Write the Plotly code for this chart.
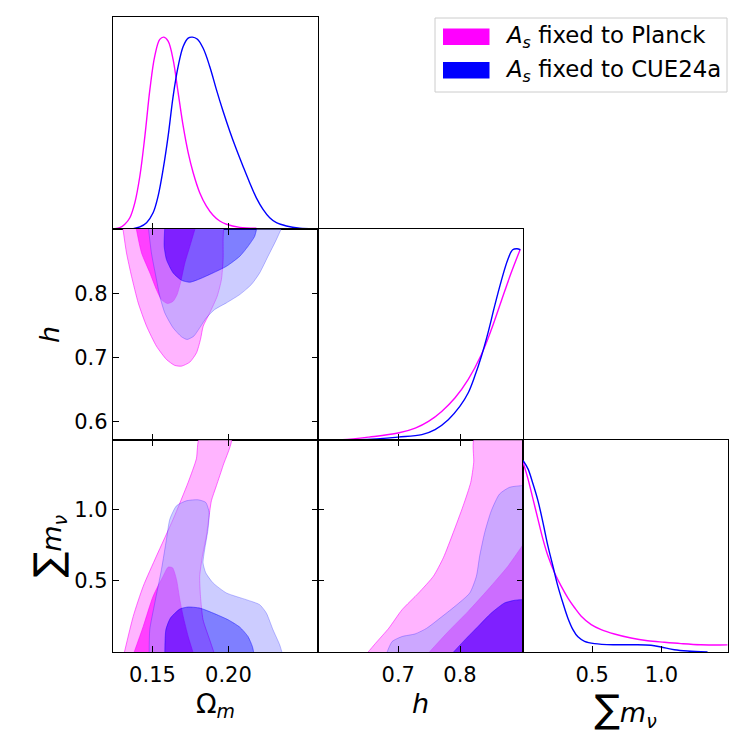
import plotly.graph_objects as go
from plotly.subplots import make_subplots

# ---------------- data ----------------
# 1D marginals (peak normalised to 1)
om_planck_x = [0.1252, 0.1285, 0.1318, 0.1351, 0.1384, 0.1417, 0.1450, 0.1483, 0.1515, 0.1548, 0.1575,
               0.1603, 0.1636, 0.1669, 0.1702, 0.1735, 0.1768, 0.1811, 0.1855, 0.1899, 0.1943, 0.1987,
               0.2075, 0.2184]
om_planck_p = [0.0, 0.005, 0.023, 0.057, 0.136, 0.275, 0.483, 0.727, 0.901, 0.988, 1.0,
               0.979, 0.883, 0.710, 0.536, 0.397, 0.292, 0.188, 0.118, 0.070, 0.040, 0.023,
               0.007, 0.002]
om_cue_x = [0.1373, 0.1417, 0.1461, 0.1504, 0.1537, 0.1570, 0.1603, 0.1636, 0.1669, 0.1702, 0.1735,
            0.1763, 0.1794, 0.1833, 0.1877, 0.1921, 0.1965, 0.2009, 0.2053, 0.2096, 0.2140, 0.2184,
            0.2228, 0.2272, 0.2316, 0.2382, 0.2470, 0.2557]
om_cue_p = [0.0, 0.009, 0.031, 0.083, 0.170, 0.309, 0.483, 0.691, 0.847, 0.951, 0.995,
            1.0, 0.990, 0.943, 0.847, 0.726, 0.613, 0.509, 0.413, 0.326, 0.240, 0.161,
            0.101, 0.057, 0.031, 0.014, 0.003, 0.0]

h_planck_x = [0.5697, 0.6098, 0.6526, 0.6997, 0.7275, 0.7489, 0.7703, 0.7917, 0.8131, 0.8345,
              0.8506, 0.8666, 0.8827, 0.8976]
h_planck_p = [0.0, 0.003, 0.017, 0.038, 0.064, 0.099, 0.151, 0.221, 0.317, 0.447,
              0.577, 0.725, 0.873, 0.998]
h_cue_x = [0.5697, 0.6366, 0.6997, 0.7382, 0.7596, 0.7810, 0.7997, 0.8131, 0.8238, 0.8345,
           0.8452, 0.8559, 0.8666, 0.8773, 0.8853, 0.8923, 0.8976]
h_cue_p = [0.0, 0.003, 0.017, 0.030, 0.056, 0.108, 0.177, 0.247, 0.334, 0.438,
           0.560, 0.699, 0.830, 0.943, 0.995, 1.0, 0.995]

mnu_planck_x = [0.0, 0.036, 0.072, 0.108, 0.144, 0.180, 0.228, 0.276, 0.324, 0.373, 0.421,
                0.493, 0.565, 0.661, 0.781, 0.901, 1.021, 1.142, 1.286, 1.478]
mnu_planck_p = [0.991, 0.904, 0.799, 0.694, 0.589, 0.502, 0.414, 0.344, 0.283, 0.231, 0.187,
                0.143, 0.117, 0.094, 0.073, 0.059, 0.051, 0.044, 0.038, 0.037]
mnu_cue_x = [0.0, 0.036, 0.072, 0.108, 0.144, 0.180, 0.216, 0.252, 0.288, 0.324, 0.361,
             0.397, 0.445, 0.517, 0.661, 0.805, 0.925, 0.998, 1.094, 1.190, 1.334]
mnu_cue_p = [1.0, 0.956, 0.878, 0.790, 0.677, 0.554, 0.449, 0.344, 0.257, 0.178, 0.117,
             0.079, 0.056, 0.044, 0.038, 0.038, 0.035, 0.026, 0.012, 0.005, 0.0]

# 2D contours (68% / 95%), Omega_m vs h
omh_planck95_x = [0.1303, 0.1329, 0.1362, 0.1406, 0.1461, 0.1526, 0.1592, 0.1647, 0.1691, 0.1746,
                  0.1790, 0.1816, 0.1834, 0.1877, 0.1926, 0.1954, 0.1965, 0.1965, 0.1969]
omh_planck95_y = [0.906, 0.8639, 0.8274, 0.7856, 0.7491, 0.7177, 0.6969, 0.6875, 0.6864, 0.6927,
                  0.7073, 0.7282, 0.7491, 0.7699, 0.7960, 0.8221, 0.8535, 0.8848, 0.906]
omh_planck68_x = [0.1390, 0.1428, 0.1483, 0.1526, 0.1559, 0.1599, 0.1636, 0.1662, 0.1684, 0.1713,
                  0.1746, 0.1785]
omh_planck68_y = [0.906, 0.8639, 0.8326, 0.8065, 0.7908, 0.7846, 0.7882, 0.7987, 0.8169, 0.8482,
                  0.8743, 0.906]
omh_cue95_x = [0.1471, 0.1493, 0.1522, 0.1548, 0.1581, 0.1636, 0.1691, 0.1728, 0.1772, 0.1811,
               0.1855, 0.1910, 0.1987, 0.2075, 0.2151, 0.2206, 0.2261, 0.2316, 0.2360]
omh_cue95_y = [0.908, 0.8639, 0.8274, 0.7960, 0.7699, 0.7464, 0.7324, 0.7282, 0.7334, 0.7464,
               0.7621, 0.7752, 0.7856, 0.7987, 0.8143, 0.8326, 0.8587, 0.8848, 0.908]
omh_cue68_x = [0.1581, 0.1577, 0.1592, 0.1636, 0.1691, 0.1746, 0.1811, 0.1899, 0.1987, 0.2075,
               0.2129, 0.2173, 0.2189]
omh_cue68_y = [0.905, 0.8743, 0.8535, 0.8326, 0.8211, 0.8180, 0.8232, 0.8326, 0.8430, 0.8587,
               0.8743, 0.8900, 0.905]

# Omega_m vs sum m_nu
ommnu_planck95_x = [0.1311, 0.1373, 0.1439, 0.1526, 0.1636, 0.1735, 0.1789, 0.1811, 0.2020, 0.1965,
                    0.1921, 0.1888, 0.1873, 0.1855, 0.1829, 0.1811, 0.1816, 0.1833, 0.1877, 0.1910]
ommnu_planck95_y = [-0.02, 0.2491, 0.4603, 0.6715, 0.9297, 1.1879, 1.3522, 1.50, 1.50, 1.3052,
                    1.1644, 1.0588, 0.9532, 0.8124, 0.6715, 0.5307, 0.3899, 0.2256, 0.0848, -0.02]
ommnu_planck68_x = [0.1373, 0.1439, 0.1504, 0.1570, 0.1603, 0.1632, 0.1658, 0.1680, 0.1702, 0.1735,
                    0.1772]
ommnu_planck68_y = [-0.02, 0.1787, 0.3899, 0.5307, 0.5941, 0.5894, 0.5073, 0.3664, 0.2491, 0.1083,
                    -0.02]
ommnu_cue95_x = [0.1478, 0.1482, 0.1515, 0.1559, 0.1592, 0.1614, 0.1658, 0.1724, 0.1800, 0.1851,
                 0.1873, 0.1866, 0.1844, 0.1833, 0.1851, 0.1899, 0.1987, 0.2118, 0.2206, 0.2250,
                 0.2294, 0.2338, 0.2360]
ommnu_cue95_y = [-0.03, 0.1552, 0.3430, 0.5777, 0.7889, 0.9297, 1.0236, 1.0588, 1.0658, 1.0471,
                 0.9766, 0.8593, 0.7185, 0.6246, 0.5542, 0.4838, 0.4134, 0.3664, 0.3312, 0.2726,
                 0.1552, 0.0496, -0.03]
ommnu_cue68_x = [0.1581, 0.1588, 0.1618, 0.1680, 0.1735, 0.1811, 0.1899, 0.1998, 0.2075, 0.2129,
                 0.2158, 0.2169]
ommnu_cue68_y = [-0.015, 0.1552, 0.2374, 0.3007, 0.3148, 0.3078, 0.2726, 0.2256, 0.1740, 0.1083,
                 0.0379, -0.015]

# h vs sum m_nu
hmnu_planck95_x = [0.6473, 0.6633, 0.6847, 0.7061, 0.7329, 0.7569, 0.7730, 0.7890, 0.8051, 0.8174,
                   0.8222, 0.8238, 0.93, 0.93]
hmnu_planck95_y = [-0.02, 0.0614, 0.1669, 0.2960, 0.4134, 0.5307, 0.6598, 0.8358, 1.0236, 1.1879,
                   1.3287, 1.50, 1.50, -0.02]
hmnu_planck68_x = [0.7462, 0.7810, 0.8131, 0.8452, 0.8773, 0.8987, 0.93, 0.93]
hmnu_planck68_y = [-0.02, 0.1435, 0.2843, 0.4369, 0.5991, 0.7302, 0.92, -0.02]
hmnu_cue95_x = [0.6793, 0.6900, 0.7061, 0.7275, 0.7462, 0.7676, 0.7917, 0.8158, 0.8265, 0.8318,
                0.8399, 0.8506, 0.8639, 0.8800, 0.8987, 0.94, 0.94]
hmnu_cue95_y = [-0.03, 0.0731, 0.1083, 0.1270, 0.1669, 0.2374, 0.3195, 0.4134, 0.5307, 0.6715,
                0.8358, 0.9883, 1.1057, 1.1527, 1.1644, 1.165, -0.03]
hmnu_cue68_x = [0.7863, 0.8078, 0.8292, 0.8506, 0.8720, 0.8880, 0.8987, 0.92, 0.92]
hmnu_cue68_y = [-0.015, 0.0848, 0.1787, 0.2726, 0.3430, 0.3617, 0.3664, 0.367, -0.015]

labels = ["<i>A</i><sub><i>s</i></sub> fixed to Planck", "<i>A</i><sub><i>s</i></sub> fixed to CUE24a"]
om_ticks = [0.15, 0.20]
om_ticktext = ["0.15", "0.20"]
h_xticks = [0.7, 0.8]
h_xticktext = ["0.7", "0.8"]
h_yticks = [0.6, 0.7, 0.8]
h_yticktext = ["0.6", "0.7", "0.8"]
mnu_ticks = [0.5, 1.0]
mnu_ticktext = ["0.5", "1.0"]

om_range = [0.124, 0.259]
h_range = [0.57, 0.902]
mnu_range = [0.0, 1.482]
pdf_range = [0.0, 1.105]

FONT = "DejaVu Sans"
MAG = "#ff00ff"
BLU = "#0000ff"
# Planck contours are opaque, CUE24a contours are laid over them half transparent
fills = {"p95": "rgb(255,180,255)", "p68": "rgb(255,64,255)",
         "b95": "rgba(153,153,255,0.5)", "b68": "rgba(0,0,255,0.5)"}
edges = {"p": "rgba(255,0,255,0.7)", "b": "rgba(0,0,255,0.3)"}

# page layout in pixels
W = H = 747
ML, MR, MT, MB = 113, 19, 17, 95

fig = make_subplots(rows=3, cols=3, horizontal_spacing=0, vertical_spacing=0,
                    specs=[[{}, None, None], [{}, {}, None], [{}, {}, {}]])


def line1d(x, p, color, row, col):
    fig.add_trace(go.Scatter(x=x, y=p, mode="lines", line=dict(color=color, width=1.4, shape="spline"),
                             hoverinfo="skip", showlegend=False), row=row, col=col)


def area(x, y):
    s = 0.0
    for i in range(len(x)):
        j = (i + 1) % len(x)
        s += x[i] * y[j] - x[j] * y[i]
    return s


def region(x, y, key, row, col, hole=None):
    # hole: inner contour cut out of the band (opposite winding, nonzero fill rule)
    xs, ys = list(x), list(y)
    if hole is not None:
        hx, hy = list(hole[0]), list(hole[1])
        if (area(xs, ys) > 0) == (area(hx, hy) > 0):
            hx, hy = hx[::-1], hy[::-1]
        xs += [None] + hx
        ys += [None] + hy
    fig.add_trace(go.Scatter(x=xs, y=ys, mode="lines", fill="toself", fillcolor=fills[key],
                             line=dict(color=edges[key[0]], width=0.8, shape="spline", smoothing=0.6),
                             connectgaps=False, hoverinfo="skip", showlegend=False), row=row, col=col)


line1d(om_planck_x, om_planck_p, MAG, 1, 1)
line1d(om_cue_x, om_cue_p, BLU, 1, 1)
line1d(h_planck_x, h_planck_p, MAG, 2, 2)
line1d(h_cue_x, h_cue_p, BLU, 2, 2)
line1d(mnu_planck_x, mnu_planck_p, MAG, 3, 3)
line1d(mnu_cue_x, mnu_cue_p, BLU, 3, 3)

region(omh_planck95_x, omh_planck95_y, "p95", 2, 1)
region(omh_planck68_x, omh_planck68_y, "p68", 2, 1)
region(omh_cue95_x, omh_cue95_y, "b95", 2, 1, hole=(omh_cue68_x, omh_cue68_y))
region(omh_cue68_x, omh_cue68_y, "b68", 2, 1)

region(ommnu_planck95_x, ommnu_planck95_y, "p95", 3, 1)
region(ommnu_planck68_x, ommnu_planck68_y, "p68", 3, 1)
region(ommnu_cue95_x, ommnu_cue95_y, "b95", 3, 1, hole=(ommnu_cue68_x, ommnu_cue68_y))
region(ommnu_cue68_x, ommnu_cue68_y, "b68", 3, 1)

region(hmnu_planck95_x, hmnu_planck95_y, "p95", 3, 2)
region(hmnu_planck68_x, hmnu_planck68_y, "p68", 3, 2)
region(hmnu_cue95_x, hmnu_cue95_y, "b95", 3, 2, hole=(hmnu_cue68_x, hmnu_cue68_y))
region(hmnu_cue68_x, hmnu_cue68_y, "b68", 3, 2)

axis_style = dict(showline=True, linecolor="black", linewidth=1.3, ticks="inside", ticklen=6,
                  tickwidth=1.3, tickcolor="black", showgrid=False, zeroline=False,
                  tickfont=dict(family=FONT, size=21, color="black"), showticklabels=False,
                  ticklabelstandoff=4, automargin=False)
fig.update_xaxes(**axis_style)
fig.update_yaxes(**axis_style)

title_font = dict(family=FONT, size=27, color="black")
sum_label = "<span style='font-size:38px'>∑</span><i>m</i><sub><i>ν</i></sub>"

# x axes
fig.update_xaxes(range=om_range, tickvals=om_ticks, ticktext=om_ticktext, col=1)
fig.update_xaxes(range=h_range, tickvals=h_xticks, ticktext=h_xticktext, col=2)
fig.update_xaxes(range=mnu_range, tickvals=mnu_ticks, ticktext=mnu_ticktext, col=3)
fig.update_xaxes(mirror="ticks", row=2, col=1)
fig.update_xaxes(mirror="ticks", row=3, col=1)
fig.update_xaxes(mirror="ticks", row=3, col=2)
fig.update_xaxes(mirror=True, row=1, col=1)
fig.update_xaxes(mirror=True, row=2, col=2)
fig.update_xaxes(mirror=True, row=3, col=3)
fig.update_xaxes(showticklabels=True, row=3)
fig.update_xaxes(title=dict(text="Ω<sub><i>m</i></sub>", font=title_font, standoff=7), row=3, col=1)
fig.update_xaxes(title=dict(text="<i>h</i>", font=title_font, standoff=7), row=3, col=2)
fig.update_xaxes(title=dict(text=sum_label, font=title_font, standoff=5), row=3, col=3)

# y axes
fig.update_yaxes(range=h_range, tickvals=h_yticks, ticktext=h_yticktext, mirror="ticks", row=2, col=1)
fig.update_yaxes(range=mnu_range, tickvals=mnu_ticks, ticktext=mnu_ticktext, mirror="ticks", row=3, col=1)
fig.update_yaxes(range=mnu_range, tickvals=mnu_ticks, mirror="ticks", row=3, col=2)
for r, c in [(1, 1), (2, 2), (3, 3)]:
    fig.update_yaxes(range=pdf_range, ticks="", mirror=True, row=r, col=c)
fig.update_yaxes(showticklabels=True, ticklabelstandoff=0, col=1, row=2)
fig.update_yaxes(showticklabels=True, ticklabelstandoff=0, col=1, row=3)
fig.update_yaxes(title=dict(text="<i>h</i>", font=title_font, standoff=6), row=2, col=1)
fig.update_yaxes(title=dict(text=sum_label, font=title_font, standoff=4), row=3, col=1)


# legend box, positions given in page pixels and mapped to paper coordinates
def px(v):
    return (v - ML) / (W - ML - MR)


def py(v):
    return (H - MB - v) / (H - MT - MB)


shapes = [dict(type="rect", xref="paper", yref="paper", x0=px(435), x1=px(727), y0=py(92), y1=py(18),
               line=dict(color="#cccccc", width=1), fillcolor="rgba(255,255,255,0.8)")]
for i, col in enumerate([MAG, BLU]):
    top = 28.5 + i * 33.5
    shapes.append(dict(type="rect", xref="paper", yref="paper", x0=px(443), x1=px(489.5),
                       y0=py(top + 16.5), y1=py(top), line=dict(width=0), fillcolor=col))
annotations = []
for i, lab in enumerate(labels):
    annotations.append(dict(text=lab, xref="paper", yref="paper", x=px(503), y=py(37 + i * 33.5),
                            xanchor="left", yanchor="middle", showarrow=False,
                            font=dict(family=FONT, size=22.8, color="black")))

fig.update_layout(width=W, height=H, margin=dict(l=ML, r=MR, t=MT, b=MB),
                  plot_bgcolor="white", paper_bgcolor="white", showlegend=False,
                  font=dict(family=FONT, color="black"), shapes=shapes, annotations=annotations)

# the page body keeps its default 8 px margin otherwise
fig.write_html("out.html", config={"displayModeBar": False},
               post_script="document.body.style.margin='0';")
